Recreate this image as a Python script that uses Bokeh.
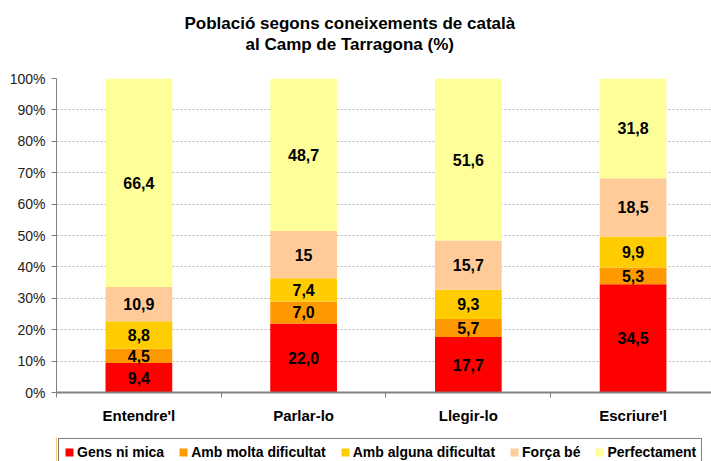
from bokeh.plotting import figure
from bokeh.layouts import column
from bokeh.models import (ColumnDataSource, Range1d, FixedTicker, PrintfTickFormatter,
                          Legend, LegendItem, Title, LabelSet)
from bokeh.core.properties import value
from bokeh.embed import file_html
from bokeh.resources import INLINE

categories = ["Entendre'l", "Parlar-lo", "Llegir-lo", "Escriure'l"]
series = ["Gens ni mica", "Amb molta dificultat", "Amb alguna dificultat", "Força bé", "Perfectament"]
gens_ni_mica = [9.4, 22.0, 17.7, 34.5]
amb_molta = [4.5, 7.0, 5.7, 5.3]
amb_alguna = [8.8, 7.4, 9.3, 9.9]
forca_be = [10.9, 15, 15.7, 18.5]
perfectament = [66.4, 48.7, 51.6, 31.8]
colors = ["#FF0000", "#FF9900", "#FFCC00", "#FFCC99", "#FFFF99"]
y_ticks = list(range(0, 101, 10))
title_lines = ["Població segons coneixements de català", "al Camp de Tarragona (%)"]

values = [gens_ni_mica, amb_molta, amb_alguna, forca_be, perfectament]


def fmt(v):
    if isinstance(v, int):
        return str(v)
    return f"{v:.1f}".replace(".", ",")


FONT = "Liberation Sans"
xs = [i + 0.5 for i in range(len(categories))]

p = figure(width=711, height=437, output_backend="svg", toolbar_location=None,
           x_range=Range1d(0, 3.976), y_range=Range1d(0, 100),
           min_border_left=56, min_border_right=0, min_border_top=78, min_border_bottom=45)
p.outline_line_color = None
p.background_fill_color = "white"
p.border_fill_color = "white"
p.title = None

# titles: spacer closest to frame, then line 2, then line 1
spacer = Title(text=" ", text_font_size="1px", standoff=22)
t2 = Title(text=title_lines[1], align="left", text_font=FONT,
           text_font_style="bold", text_font_size="17px", text_color="black",
           offset=189, standoff=0)
t1 = Title(text=title_lines[0], align="left", text_font=FONT,
           text_font_style="bold", text_font_size="17px", text_color="black",
           offset=128, standoff=0)
p.add_layout(spacer, "above")
p.add_layout(t2, "above")
p.add_layout(t1, "above")

bottom = [0.0] * len(categories)
for name, vals, col in zip(series, values, colors):
    top = [b + v for b, v in zip(bottom, vals)]
    mid = [(b + t) / 2 for b, t in zip(bottom, top)]
    src = ColumnDataSource(dict(x=xs, bottom=bottom, top=top, mid=mid,
                                label=[fmt(v) for v in vals]))
    p.vbar(x="x", width=0.405, bottom="bottom", top="top", source=src,
           fill_color=col, line_color=None)
    p.add_layout(LabelSet(x="x", y="mid", text="label", source=src,
                          text_align="center", text_baseline="middle",
                          text_font=value(FONT), text_font_style="bold",
                          text_font_size="16px", text_color="black"))
    bottom = top

# axes
p.xaxis.ticker = FixedTicker(ticks=xs, minor_ticks=[0, 1, 2, 3])
p.xaxis.major_label_overrides = {x: c for x, c in zip(xs, categories)}
p.xaxis.major_tick_out = 0
p.xaxis.major_tick_in = 0
p.xaxis.minor_tick_out = 5
p.xaxis.minor_tick_in = 0
p.xaxis.minor_tick_line_color = "#808080"
p.xaxis.axis_line_color = "#808080"
p.xaxis.axis_line_width = 2
p.xaxis.major_label_standoff = 9
p.xaxis.major_label_text_font = FONT
p.xaxis.major_label_text_font_style = "bold"
p.xaxis.major_label_text_font_size = "15px"
p.xaxis.major_label_text_color = "black"

p.yaxis.ticker = FixedTicker(ticks=y_ticks)
p.yaxis.formatter = PrintfTickFormatter(format="%d%%")
p.yaxis.major_tick_out = 5
p.yaxis.major_tick_in = 0
p.yaxis.minor_tick_out = 0
p.yaxis.major_tick_line_color = "#808080"
p.yaxis.axis_line_color = "#808080"
p.yaxis.major_label_standoff = 6
p.yaxis.major_label_text_font = FONT
p.yaxis.major_label_text_font_size = "14px"
p.yaxis.major_label_text_color = "#222222"

p.xgrid.grid_line_color = None
p.ygrid.ticker = FixedTicker(ticks=y_ticks[1:])
p.ygrid.grid_line_color = "#b8b8b8"
p.ygrid.grid_line_dash = "2 2"
p.ygrid.grid_line_width = 1

# legend strip below the chart (its frame is aligned with the chart's frame)
lg = figure(width=711, height=24, output_backend="svg", toolbar_location=None,
            x_axis_type=None, y_axis_type=None, x_range=Range1d(0, 1), y_range=Range1d(0, 1),
            min_border_left=0, min_border_right=0, min_border_top=0, min_border_bottom=0)
lg.outline_line_color = None
lg.grid.visible = False
lg.background_fill_color = "white"
items = []
for name, col in zip(series, colors):
    # proxy glyph kept outside the visible range; only its legend swatch shows
    r = lg.vbar(x=[-5], top=[1], width=0.1, fill_color=col, line_color=None)
    items.append(LegendItem(label=name, renderers=[r]))

legend = Legend(items=items, orientation="horizontal", location=(2, -5),
                glyph_width=10, glyph_height=10, label_standoff=3, spacing=14,
                padding=5, margin=0, label_height=16,
                border_line_color="black", border_line_width=1,
                label_text_font=FONT, label_text_font_style="bold",
                label_text_font_size="14px", label_text_color="black",
                background_fill_color="white", background_fill_alpha=1)
lg.add_layout(legend)

layout = column(p, lg, spacing=0)
open("out.html", "w").write(file_html(layout, INLINE))
